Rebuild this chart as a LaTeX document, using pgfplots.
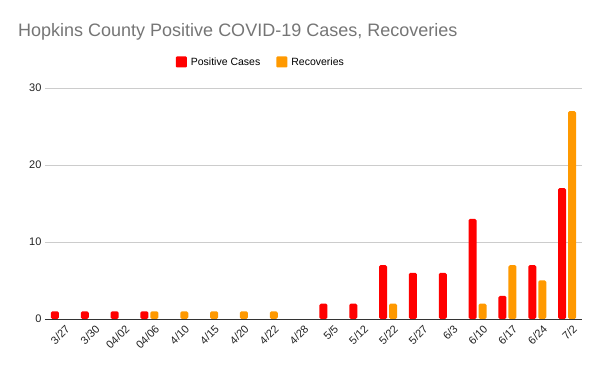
\documentclass[border=0pt]{standalone}
\usepackage{pgfplots}
\pgfplotsset{compat=1.18}
\usepackage{fontspec}
\setmainfont{Liberation Sans}
\definecolor{cred}{HTML}{FF0000}
\definecolor{corange}{HTML}{FF9900}
\definecolor{titlegray}{HTML}{757575}
\definecolor{gridgray}{HTML}{CCCCCC}
\definecolor{axisgray}{HTML}{333333}
\definecolor{labelgray}{HTML}{222222}
\begin{document}
\begin{tikzpicture}
\useasboundingbox (0pt,0pt) rectangle (600pt,371pt);
\node[anchor=base west, text=titlegray, font=\fontsize{18}{20}\selectfont, inner sep=0] at (18pt,334pt) {Hopkins County Positive COVID-19 Cases, Recoveries};
\begin{axis}[
  at={(45pt,52pt)}, anchor=south west, scale only axis,
  width=537pt, height=231pt,
  ymin=0, ymax=30, xmin=-0.5, xmax=17.5,
  ybar=2pt, bar width=8pt,
  ytick={0,10,20,30},
  ymajorgrids, grid style={color=gridgray, line width=0.6pt},
  axis x line*=bottom, axis y line*=left,
  y axis line style={draw=none},
  x axis line style={color=axisgray, line width=0.9pt},
  major tick length=0,
  xtick={0,...,17},
  xticklabels={3/27,3/30,04/02,04/06,4/10,4/15,4/20,4/22,4/28,5/5,5/12,5/22,5/27,6/3,6/10,6/17,6/24,7/2},
  x tick label style={rotate=45, anchor=north east, font=\fontsize{11}{13}\selectfont, text=labelgray, inner sep=1pt, yshift=-6pt, xshift=1pt},
  y tick label style={font=\fontsize{11}{13}\selectfont, text=labelgray},
  /pgf/number format/assume math mode=true,
  legend columns=2,
  legend style={at={(0.402,1)}, anchor=center, yshift=26pt, draw=none, fill=none,
    font=\fontsize{10.5}{12}\selectfont,
    /tikz/every even column/.append style={column sep=14pt},
    /tikz/every odd column/.append style={column sep=2pt}},
  legend image code/.code={\fill[#1, rounded corners=1pt] (0pt,-5.5pt) rectangle (11pt,5.5pt);},
]
\addplot[fill=cred, draw=none, rounded corners=1.5pt] coordinates {(0,1)(1,1)(2,1)(3,1)(9,2)(10,2)(11,7)(12,6)(13,6)(14,13)(15,3)(16,7)(17,17)};
\addplot[fill=corange, draw=none, rounded corners=1.5pt] coordinates {(3,1)(4,1)(5,1)(6,1)(7,1)(11,2)(14,2)(15,7)(16,5)(17,27)};
\legend{Positive Cases, Recoveries}
\end{axis}
\end{tikzpicture}
\end{document}
